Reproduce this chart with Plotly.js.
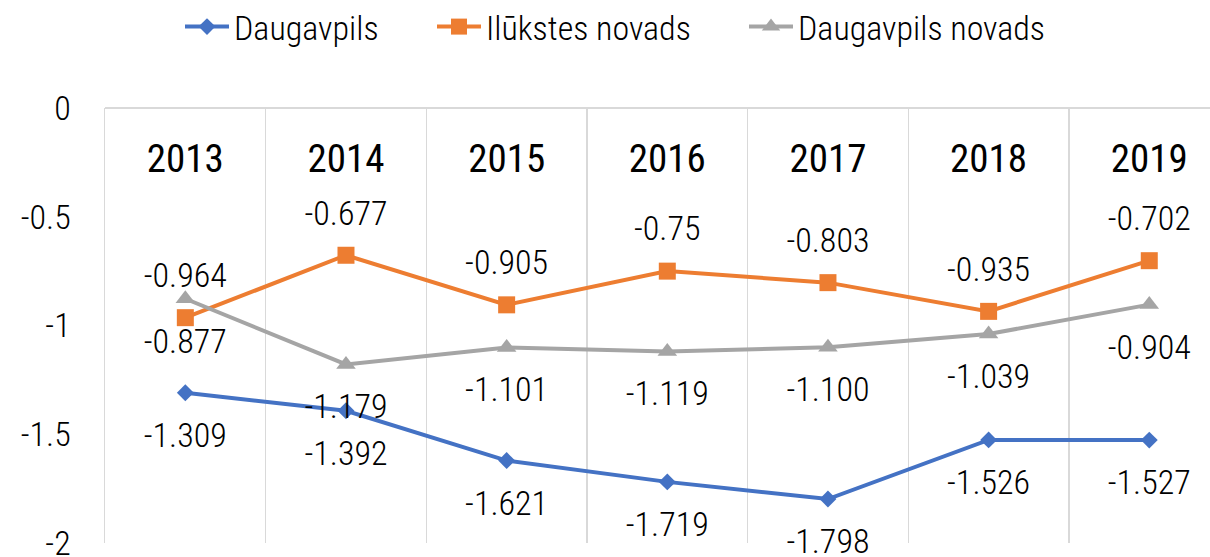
<!DOCTYPE html>
<html>
<head>
<meta charset="utf-8">
<script src="https://cdn.plot.ly/plotly-3.0.1.min.js"></script>
<style>
  html, body { margin: 0; padding: 0; background: #fff; }
  #chart { width: 1210px; height: 557px; }
</style>
</head>
<body>
<div id="chart"></div>
<script>
const years = ["2013", "2014", "2015", "2016", "2017", "2018", "2019"];
const daugavpils = [-1.309, -1.392, -1.621, -1.719, -1.798, -1.526, -1.527];
const daugavpilsLabels = ["-1.309", "-1.392", "-1.621", "-1.719", "-1.798", "-1.526", "-1.527"];
const ilukstes = [-0.964, -0.677, -0.905, -0.75, -0.803, -0.935, -0.702];
const ilukstesLabels = ["-0.964", "-0.677", "-0.905", "-0.75", "-0.803", "-0.935", "-0.702"];
const daugavpilsNovads = [-0.877, -1.179, -1.101, -1.119, -1.100, -1.039, -0.904];
const daugavpilsNovadsLabels = ["-0.877", "-1.179", "-1.101", "-1.119", "-1.100", "-1.039", "-0.904"];
const yTicks = [0, -0.5, -1, -1.5, -2];
const yTickText = ["0", "-0.5", "-1", "-1.5", "-2"];
const yRange = [-2, 0];

const FONT = '"Roboto Condensed", Roboto, sans-serif';
const labelFont = { family: FONT, size: 34, color: "#000", weight: 300 };

function series(name, y, color, symbol, size, legendId) {
  return {
    name: name, x: years, y: y, type: "scatter", mode: "lines+markers",
    line: { color: color, width: 4 },
    marker: { symbol: symbol, size: size, color: color },
    legend: legendId, cliponaxis: false
  };
}
function labels(y, text, pos, pad) {
  return {
    x: years, y: y, text: text, type: "scatter", mode: "markers+text",
    textposition: pos, showlegend: false, hoverinfo: "skip",
    marker: { size: pad, color: "rgba(0,0,0,0)" },
    textfont: labelFont, cliponaxis: false
  };
}
function legendAt(xPx) {
  return {
    orientation: "h", x: xPx / 1210, xref: "container", xanchor: "left",
    y: 1 - 27 / 557, yref: "container", yanchor: "middle",
    font: { family: FONT, size: 34, color: "#000", weight: 300 },
    itemwidth: 44, bgcolor: "rgba(0,0,0,0)", borderwidth: 0
  };
}

const traces = [
  series("Daugavpils", daugavpils, "#4472C4", "diamond", 13, "legend"),
  series("Ilūkstes novads", ilukstes, "#ED7D31", "square", 17, "legend2"),
  series("Daugavpils novads", daugavpilsNovads, "#A5A5A5", "triangle-up", 17, "legend3"),
  labels(daugavpils, daugavpilsLabels, "bottom center", 44),
  labels(ilukstes, ilukstesLabels, "top center", 34),
  labels(daugavpilsNovads, daugavpilsNovadsLabels, "bottom center", 44)
];

const layout = {
  width: 1210, height: 557,
  margin: { l: 105, r: 0, t: 108, b: 14, autoexpand: false },
  paper_bgcolor: "#fff", plot_bgcolor: "#fff",
  font: { family: FONT, size: 34, color: "#000" },
  showlegend: true,
  legend: legendAt(180),
  legend2: legendAt(432),
  legend3: legendAt(744),
  xaxis: {
    type: "category", categoryarray: years,
    range: [-0.5, 6.378], automargin: false,
    anchor: "free", position: 0.9448, side: "bottom",
    tickson: "boundaries", ticks: "",
    showgrid: true, gridcolor: "#D9D9D9", gridwidth: 1.5,
    showline: false, zeroline: false,
    tickfont: { family: FONT, size: 39, color: "#000", weight: 400 }
  },
  yaxis: {
    range: yRange, tickvals: yTicks, ticktext: yTickText, automargin: false,
    showgrid: false, zeroline: false, ticklabeloverflow: "allow",
    showline: true, linecolor: "#D9D9D9", linewidth: 1.5,
    ticks: "", ticklabelstandoff: 26,
    tickfont: { family: FONT, size: 34, color: "#000", weight: 300 }
  },
  shapes: [
    { type: "line", xref: "paper", yref: "paper", x0: 0, x1: 1, y0: 1, y1: 1,
      line: { color: "#D9D9D9", width: 2 }, layer: "below" }
  ]
};

Plotly.newPlot("chart", traces, layout, { displayModeBar: false, staticPlot: true });
</script>
</body>
</html>
